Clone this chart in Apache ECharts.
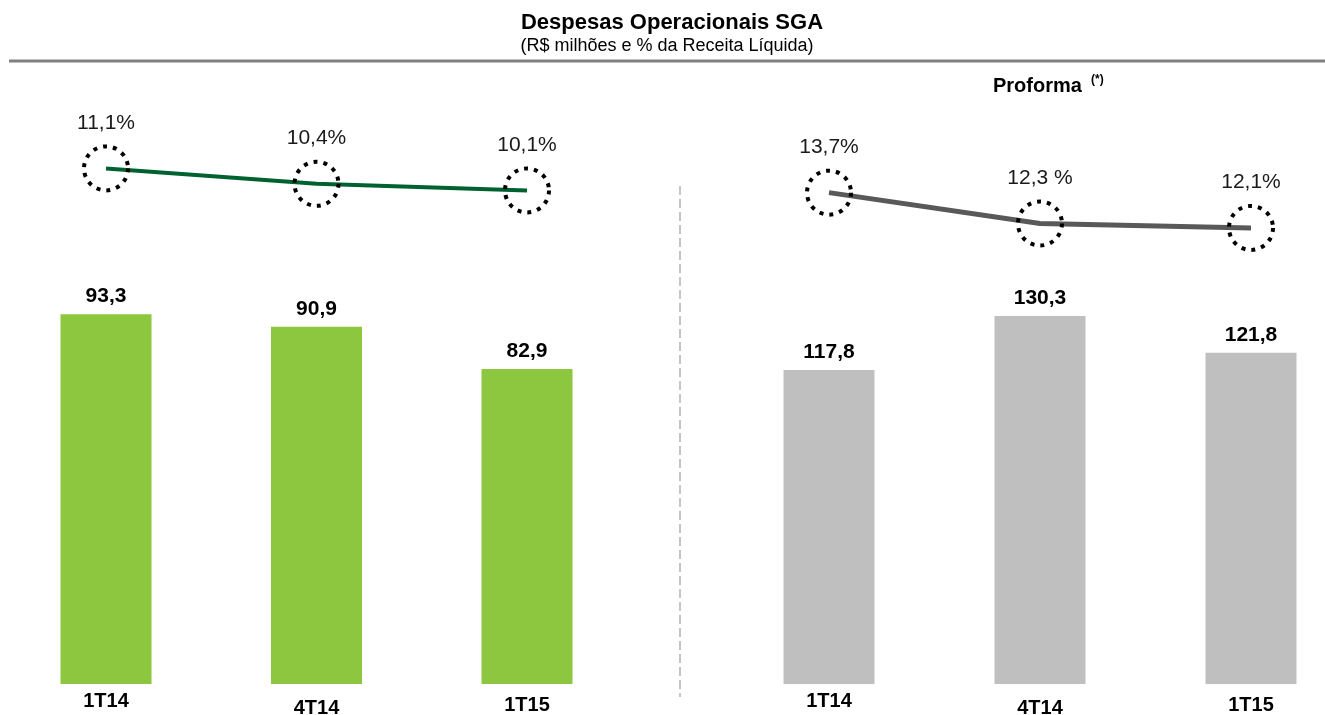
<!DOCTYPE html>
<html>
<head>
<meta charset="utf-8">
<script src="https://cdn.jsdelivr.net/npm/echarts@6/dist/echarts.min.js"></script>
<style>
html,body{margin:0;padding:0;background:#fff;}
#c{width:1325px;height:715px;}
</style>
</head>
<body>
<div id="c"></div>
<script>
// ---- data ----
var categories = ['1T14', '4T14', '1T15'];
var sgaValues = [93.3, 90.9, 82.9];
var sgaPct = [11.1, 10.4, 10.1];
var proformaValues = [117.8, 130.3, 121.8];
var proformaPct = [13.7, 12.3, 12.1];
var sgaPctLabels = ['11,1%', '10,4%', '10,1%'];
var proformaPctLabels = ['13,7%', '12,3 %', '12,1%'];

var FONT = '"Liberation Sans", Arial, sans-serif';
function fmtNum(v) { return v.toFixed(1).replace('.', ','); }

var chart = echarts.init(document.getElementById('c'), null, {renderer: 'canvas'});

function catAxis(gi, showLabels) {
  return {
    type: 'category', gridIndex: gi, data: categories, boundaryGap: false,
    axisLine: {show: false}, axisTick: {show: false},
    axisLabel: showLabels ? {
      show: true, margin: 7, color: '#000', fontFamily: FONT, fontWeight: 'bold', fontSize: 20,
      formatter: function (v, i) { return '{s' + i + '|' + v + '}'; },
      rich: {
        s0: {fontFamily: FONT, fontWeight: 'bold', fontSize: 20, color: '#000', padding: [0, 0, 0, 0]},
        s1: {fontFamily: FONT, fontWeight: 'bold', fontSize: 20, color: '#000', padding: [7, 0, 0, 0]},
        s2: {fontFamily: FONT, fontWeight: 'bold', fontSize: 20, color: '#000', padding: [4, 0, 0, 0]}
      }
    } : {show: false},
    splitLine: {show: false}
  };
}
function valAxis(gi, min, max) {
  return {
    type: 'value', gridIndex: gi, min: min, max: max, show: false,
    splitLine: {show: false}
  };
}

function barSeries(idx, data, color) {
  return {
    type: 'bar', xAxisIndex: idx, yAxisIndex: idx, data: data, barWidth: 91,
    itemStyle: {color: color},
    label: {show: true, position: 'top', distance: 7, color: '#000', fontFamily: FONT,
      fontWeight: 'bold', fontSize: 21, formatter: function (p) { return fmtNum(p.value); }},
    silent: true, animation: false
  };
}
function lineSeries(idx, data, labels, color, width) {
  return {
    type: 'line', xAxisIndex: idx, yAxisIndex: idx, data: data,
    symbol: 'circle', symbolSize: 44,
    lineStyle: {color: color, width: width},
    itemStyle: {color: 'rgba(0,0,0,0)', borderColor: '#000', borderWidth: 4, borderType: [4, 6]},
    label: {show: true, position: 'top', distance: 11, color: '#1a1a1a', fontFamily: FONT,
      fontSize: 21, formatter: function (p) { return labels[p.dataIndex]; }},
    z: 3, silent: true, animation: false
  };
}

var gridBase = {outerBoundsMode: 'none', containLabel: false};
function grid(l, w, t, h) {
  return Object.assign({left: l, width: w, top: t, height: h}, gridBase);
}

var option = {
  animation: false,
  backgroundColor: '#fff',
  grid: [
    grid(106, 421, 300, 384),
    grid(829, 422, 300, 384),
    grid(106, 421, 100, 150),
    grid(829, 422, 100, 150)
  ],
  xAxis: [catAxis(0, true), catAxis(1, true), catAxis(2, false), catAxis(3, false)],
  yAxis: [valAxis(0, 23, 96), valAxis(1, 45, 134), valAxis(2, 7.4, 14.2), valAxis(3, 11.1, 17.9)],
  series: [
    barSeries(0, sgaValues, '#8dc63f'),
    barSeries(1, proformaValues, '#bfbfbf'),
    lineSeries(2, sgaPct, sgaPctLabels, '#006130', 4),
    lineSeries(3, proformaPct, proformaPctLabels, '#595959', 5)
  ],
  graphic: [
    {type: 'text', x: 672, y: 23, silent: true,
      style: {text: 'Despesas Operacionais SGA', fontFamily: FONT, fontWeight: 'bold', fontSize: 22,
        fill: '#000', align: 'center', verticalAlign: 'middle'}},
    {type: 'text', x: 667, y: 46, silent: true,
      style: {text: '(R$ milhões e % da Receita Líquida)', fontFamily: FONT, fontSize: 18,
        fill: '#000', align: 'center', verticalAlign: 'middle'}},
    {type: 'text', x: 993, y: 86, silent: true,
      style: {text: 'Proforma', fontFamily: FONT, fontWeight: 'bold', fontSize: 20,
        fill: '#000', align: 'left', verticalAlign: 'middle'}},
    {type: 'text', x: 1091, y: 80, silent: true,
      style: {text: '(*)', fontFamily: FONT, fontWeight: 'bold', fontSize: 12,
        fill: '#000', align: 'left', verticalAlign: 'middle'}},
    {type: 'line', shape: {x1: 9, y1: 61, x2: 1325, y2: 61},
      style: {stroke: '#808080', lineWidth: 3}, silent: true},
    {type: 'line', shape: {x1: 680, y1: 186, x2: 680, y2: 697},
      style: {stroke: '#c4c4c4', lineWidth: 2, lineDash: [9, 4]}, silent: true}
  ]
};
chart.setOption(option);
</script>
</body>
</html>
